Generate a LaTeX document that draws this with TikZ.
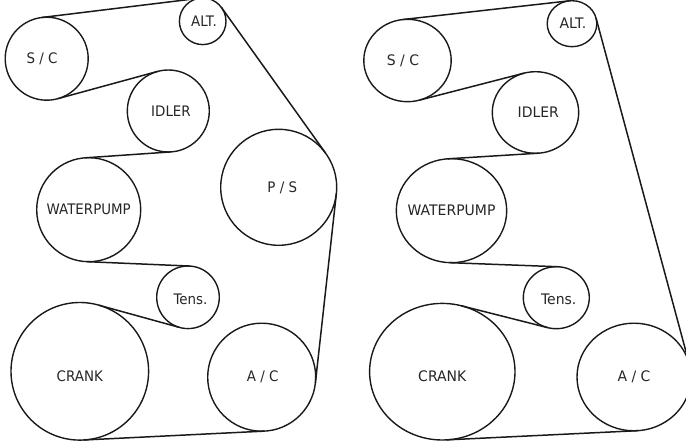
\documentclass[tikz,border=0pt]{standalone}
\usepackage{fontspec}
\usetikzlibrary{shapes.geometric}
\newfontfamily\leftfont[FakeStretch=0.925]{DejaVu Sans}
\newfontfamily\rightfont[FakeStretch=0.965]{DejaVu Sans}
\tikzset{
  lpulley/.style={circle,draw=black!90,line width=1.4pt,inner sep=0pt,outer sep=0pt,minimum size=#1},
  rpulley/.style={ellipse,draw=black!90,line width=1.4pt,inner sep=0pt,outer sep=0pt},
  ltext/.style={inner sep=0pt,text=black!85,font=\leftfont\fontsize{14.5bp}{16bp}\selectfont},
  rtext/.style={inner sep=0pt,text=black!85,font=\rightfont\fontsize{14.5bp}{16bp}\selectfont},
  belt/.style={draw=black!90,line width=1.5pt}
}
\begin{document}
\begin{tikzpicture}[x=1bp,y=-1bp]
\useasboundingbox (0,0) rectangle (686,441);
% left system
\node[lpulley=83bp,label={[ltext,name=lscT,xshift=-4.7bp]center:S / C}] (lsc) at (46.7,58.7) {};
\node[lpulley=46.6bp,label={[ltext,name=laltT,xshift=1.3bp,yshift=-0.4bp]center:ALT.}] (lalt) at (202.7,21.3) {};
\node[lpulley=82bp,label={[ltext,name=lidT,xshift=2.7bp]center:IDLER}] (lid) at (168.3,111) {};
\node[lpulley=116bp,label={[ltext,name=lpsT,xshift=3.6bp]center:P / S}] (lps) at (278.7,187.3) {};
\node[lpulley=104bp,label={[ltext,name=lwpT]center:WATERPUMP}] (lwp) at (88.7,209.7) {};
\node[lpulley=62.6bp,label={[ltext,name=ltnT,xshift=2.5bp,yshift=-1.7bp]center:Tens.}] (ltn) at (188,297.3) {};
\node[lpulley=137.6bp,label={[ltext,name=lcrT,yshift=-4.7bp]center:CRANK}] (lcr) at (79.8,371.3) {};
\node[lpulley=108bp,label={[ltext,name=lacT,xshift=1bp,yshift=0.2bp]center:A / C}] (lac) at (261.7,377.2) {};
\draw[belt] (lsc.97) -- (lalt.97);
\draw[belt] (lalt.36) -- (lps.36);
\draw[belt] (lps.-6) -- (lac.-6);
\draw[belt] (lac.-87) -- (lcr.-87);
\draw[belt] (lcr.74.6) -- (ltn.254.6);
\draw[belt] (ltn.87.6) -- (lwp.-92.4);
\draw[belt] (lwp.93.9) -- (lid.273.9);
\draw[belt] (lid.105.2) -- (lsc.-74.8);
% right system
\node[rpulley,minimum width=87.4bp,minimum height=82.4bp,label={[rtext,name=rscT,xshift=-4.5bp]center:S / C}] (rsc) at (407.5,60.5) {};
\node[rpulley,minimum width=49.6bp,minimum height=46bp,label={[rtext,name=raltT,xshift=1bp,yshift=0.4bp]center:ALT.}] (ralt) at (572,23.7) {};
\node[rpulley,minimum width=86.4bp,minimum height=81.6bp,label={[rtext,name=ridT,xshift=2.8bp]center:IDLER}] (rid) at (535.5,112.5) {};
\node[rpulley,minimum width=110.4bp,minimum height=104bp,label={[rtext,name=rwpT]center:WATERPUMP}] (rwp) at (451.5,210.7) {};
\node[rpulley,minimum width=66bp,minimum height=62bp,label={[rtext,name=rtnT,xshift=2.4bp,yshift=-1.6bp]center:Tens.}] (rtn) at (556.3,297.7) {};
\node[rpulley,minimum width=145.4bp,minimum height=136.6bp,label={[rtext,name=rcrT,yshift=-4.3bp]center:CRANK}] (rcr) at (442.3,371.7) {};
\node[rpulley,minimum width=114bp,minimum height=107.6bp,label={[rtext,name=racT,yshift=0bp]center:A / C}] (rac) at (634,377) {};
\draw[belt] (rsc.97.2) -- (ralt.97.2);
\draw[belt] (ralt.13.5) -- (rac.13.5);
\draw[belt] (rac.-86.9) -- (rcr.-86.9);
\draw[belt] (rcr.74) -- (rtn.254);
\draw[belt] (rtn.87.7) -- (rwp.-92.3);
\draw[belt] (rwp.94) -- (rid.274);
\draw[belt] (rid.106.2) -- (rsc.-73.8);
\end{tikzpicture}
\end{document}
